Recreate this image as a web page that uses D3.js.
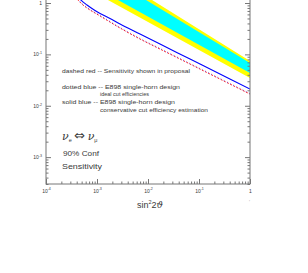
<!DOCTYPE html>
<html>
<head>
<meta charset="utf-8">
<script src="https://cdn.jsdelivr.net/npm/d3@7"></script>
<style>
body { margin: 0; background: #fff; }
text { font-family: "Liberation Sans", Arial, sans-serif; fill: #3a3a3a; }
</style>
</head>
<body>
<script>
// sensitivity curves: x = sin^2 2theta, y = delta m^2
var curveX = [4.24e-4, 4.85e-4, 6.37e-4, 9.14e-4, 1.15e-3, 1.8e-3, 2.83e-3, 6.97e-3, 0.0172, 0.0667, 0.225, 1];
var solidY = [1.37, 1.14, 0.914, 0.714, 0.624, 0.499, 0.390, 0.249, 0.159, 0.0811, 0.0443, 0.0211];
var dashedX = [3.71e-4, 4.24e-4, 5.31e-4, 7.3e-4, 1.15e-3, 1.8e-3, 2.83e-3, 6.97e-3, 0.0172, 0.0667, 0.225, 1];
var dashedY = [1.31, 1.14, 0.914, 0.731, 0.558, 0.426, 0.326, 0.199, 0.127, 0.0648, 0.0354, 0.0169];
var dottedY = [1.34, 1.17, 0.937, 0.749, 0.572, 0.437, 0.334, 0.204, 0.130, 0.0664, 0.0363, 0.0173];

// allowed band edges
var yellowUpX = [5.82e-3, 0.0120, 1];
var yellowUpY = [1.79, 1.14, 0.0741];
var yellowLowX = [7.3e-4, 1.64e-3, 1];
var yellowLowY = [1.79, 1.14, 0.0346];
var cyanUpX = [4.33e-3, 9.14e-3, 1];
var cyanUpY = [1.79, 1.14, 0.0678];
var cyanLowX = [1.15e-3, 2.58e-3, 1];
var cyanLowY = [1.79, 1.14, 0.0433];

// ticks and labels
var xMajor = [1e-4, 1e-3, 1e-2, 1e-1, 1];
var xExp = ["-4", "-3", "-2", "-1", ""];
var yMajor = [1e-3, 1e-2, 1e-1, 1, 10];
var yExp = ["-3", "-2", "-1", "", "1"];

var legendLines = [
    {t: "dashed red -- Sensitivity shown in proposal", x: 62, y: 72.5, w: 128},
    {t: "dotted blue -- E898 single-horn design", x: 62, y: 88.5, w: 118},
    {t: "ideal cut efficiencies", x: 100, y: 96, w: 49},
    {t: "solid blue -- E898 single-horn design", x: 62, y: 104, w: 113},
    {t: "conservative cut efficiency estimation", x: 100, y: 111.5, w: 108}
];

var svg = d3.select("body").append("svg")
    .attr("width", 308)
    .attr("height", 273);

var x = d3.scaleLog().domain([1e-4, 1]).range([46, 250]);
var y = d3.scaleLog().domain([3e-4, 1]).range([184, 3]);
var yTop = 100;

svg.append("clipPath").attr("id", "clip")
  .append("rect")
    .attr("x", x(1e-4)).attr("y", y(yTop))
    .attr("width", x(1) - x(1e-4)).attr("height", y(3e-4) - y(yTop));

var plot = svg.append("g").attr("clip-path", "url(#clip)");

function pts(xs, ys) {
    return xs.map(function(d, i) { return [d, ys[i]]; });
}

var straight = d3.line().x(function(d) { return x(d[0]); }).y(function(d) { return y(d[1]); });
var line = d3.line().x(function(d) { return x(d[0]); }).y(function(d) { return y(d[1]); })
    .curve(d3.curveCatmullRom);

// bands
plot.append("path")
    .attr("d", straight(pts(yellowUpX, yellowUpY).concat(pts(yellowLowX, yellowLowY).reverse())) + "Z")
    .attr("fill", "#ffff00");
plot.append("path")
    .attr("d", straight(pts(cyanUpX, cyanUpY).concat(pts(cyanLowX, cyanLowY).reverse())) + "Z")
    .attr("fill", "#00ffff");

// curves
plot.append("path")
    .attr("d", line(pts(dashedX, dashedY)))
    .attr("fill", "none").attr("stroke", "#ff2020").attr("stroke-width", 1)
    .attr("stroke-dasharray", "2,1.5");
plot.append("path")
    .attr("d", line(pts(dashedX, dottedY)))
    .attr("fill", "none").attr("stroke", "#3030ff").attr("stroke-width", 0.8)
    .attr("stroke-dasharray", "0.8,2.7");
plot.append("path")
    .attr("d", line(pts(curveX, solidY)))
    .attr("fill", "none").attr("stroke", "#0000ff").attr("stroke-width", 1.1);

// frame
svg.append("rect")
    .attr("x", x(1e-4)).attr("y", y(yTop))
    .attr("width", x(1) - x(1e-4)).attr("height", y(3e-4) - y(yTop))
    .attr("fill", "none").attr("stroke", "#777").attr("stroke-width", 1);

var xMinor = x.ticks().filter(function(d) { return xMajor.indexOf(d) < 0; });
var yMinor = d3.scaleLog().domain([3e-4, yTop]).ticks()
    .filter(function(d) { return yMajor.indexOf(d) < 0; });

function tickLabel(sel, exps, majors) {
    sel.each(function(d) {
        var t = d3.select(this).text(null);
        var e = exps[majors.indexOf(d)];
        if (e === "") { t.text("1"); return; }
        t.append("tspan").text("10");
        t.append("tspan").attr("dy", -2.2).attr("font-size", 3.6).text(e);
    });
}

function styleAxis(g) {
    g.select(".domain").remove();
    g.selectAll("line").attr("stroke", "#777");
    g.selectAll("text").attr("fill", "#555").attr("font-size", 5)
        .attr("font-family", "'Liberation Sans', Arial, sans-serif");
}

// bottom axis
svg.append("g").attr("transform", "translate(0,184)")
    .call(d3.axisBottom(x).tickValues(xMajor).tickSize(-5).tickPadding(5))
    .call(styleAxis)
    .selectAll("text").call(tickLabel, xExp, xMajor);
svg.append("g").attr("transform", "translate(0,184)")
    .call(d3.axisBottom(x).tickValues(xMinor).tickSize(-2.5).tickFormat(""))
    .call(styleAxis);

// left axis
svg.append("g").attr("transform", "translate(46,0)")
    .call(d3.axisLeft(y).tickValues(yMajor).tickSize(-5).tickPadding(4))
    .call(styleAxis)
    .selectAll("text").call(tickLabel, yExp, yMajor);
svg.append("g").attr("transform", "translate(46,0)")
    .call(d3.axisLeft(y).tickValues(yMinor).tickSize(-2.5).tickFormat(""))
    .call(styleAxis);

// right axis
svg.append("g").attr("transform", "translate(250,0)")
    .call(d3.axisLeft(y).tickValues(yMajor).tickSize(5).tickFormat(""))
    .call(styleAxis);
svg.append("g").attr("transform", "translate(250,0)")
    .call(d3.axisLeft(y).tickValues(yMinor).tickSize(2.5).tickFormat(""))
    .call(styleAxis);

// axis title
var xt = svg.append("text")
    .attr("x", 150).attr("y", 207.5)
    .attr("text-anchor", "middle")
    .attr("font-size", 9);
xt.append("tspan").text("sin");
xt.append("tspan").attr("dy", -3.5).attr("font-size", 5.5).text("2");
xt.append("tspan").attr("dy", 3.5).text("2");
xt.append("tspan").attr("font-style", "italic").attr("font-family", "'DejaVu Serif', serif").text("ϑ");

svg.append("text").attr("x", 249).attr("y", 204)
    .attr("font-size", 5).style("fill", "#aaa").text("'");

// legend text
svg.selectAll(".leg").data(legendLines).enter().append("text")
    .attr("class", "leg")
    .attr("x", function(d) { return d.x; })
    .attr("y", function(d) { return d.y; })
    .attr("font-size", 5.4)
    .attr("textLength", function(d) { return d.w; })
    .attr("lengthAdjust", "spacingAndGlyphs")
    .text(function(d) { return d.t; });

var nu = svg.append("text").attr("x", 62).attr("y", 140).attr("font-size", 11);
nu.append("tspan").attr("font-style", "italic").attr("font-family", "'DejaVu Serif', serif").text("ν");
nu.append("tspan").attr("font-size", 5.5).attr("dy", 1.5).text("e");
nu.append("tspan").attr("dy", -1.5).attr("dx", 2.5).attr("font-size", 13)
    .attr("font-family", "'DejaVu Sans', sans-serif").text("⇔");
nu.append("tspan").attr("dx", 2.5).attr("font-style", "italic").attr("font-family", "'DejaVu Serif', serif").text("ν");
nu.append("tspan").attr("font-size", 5.5).attr("dy", 1.5).text("μ");

svg.append("text").attr("x", 63).attr("y", 156).attr("font-size", 8)
    .attr("textLength", 36).attr("lengthAdjust", "spacingAndGlyphs").text("90% Conf");
svg.append("text").attr("x", 62).attr("y", 168.5).attr("font-size", 8)
    .attr("textLength", 40).attr("lengthAdjust", "spacingAndGlyphs").text("Sensitivity");
</script>
</body>
</html>
